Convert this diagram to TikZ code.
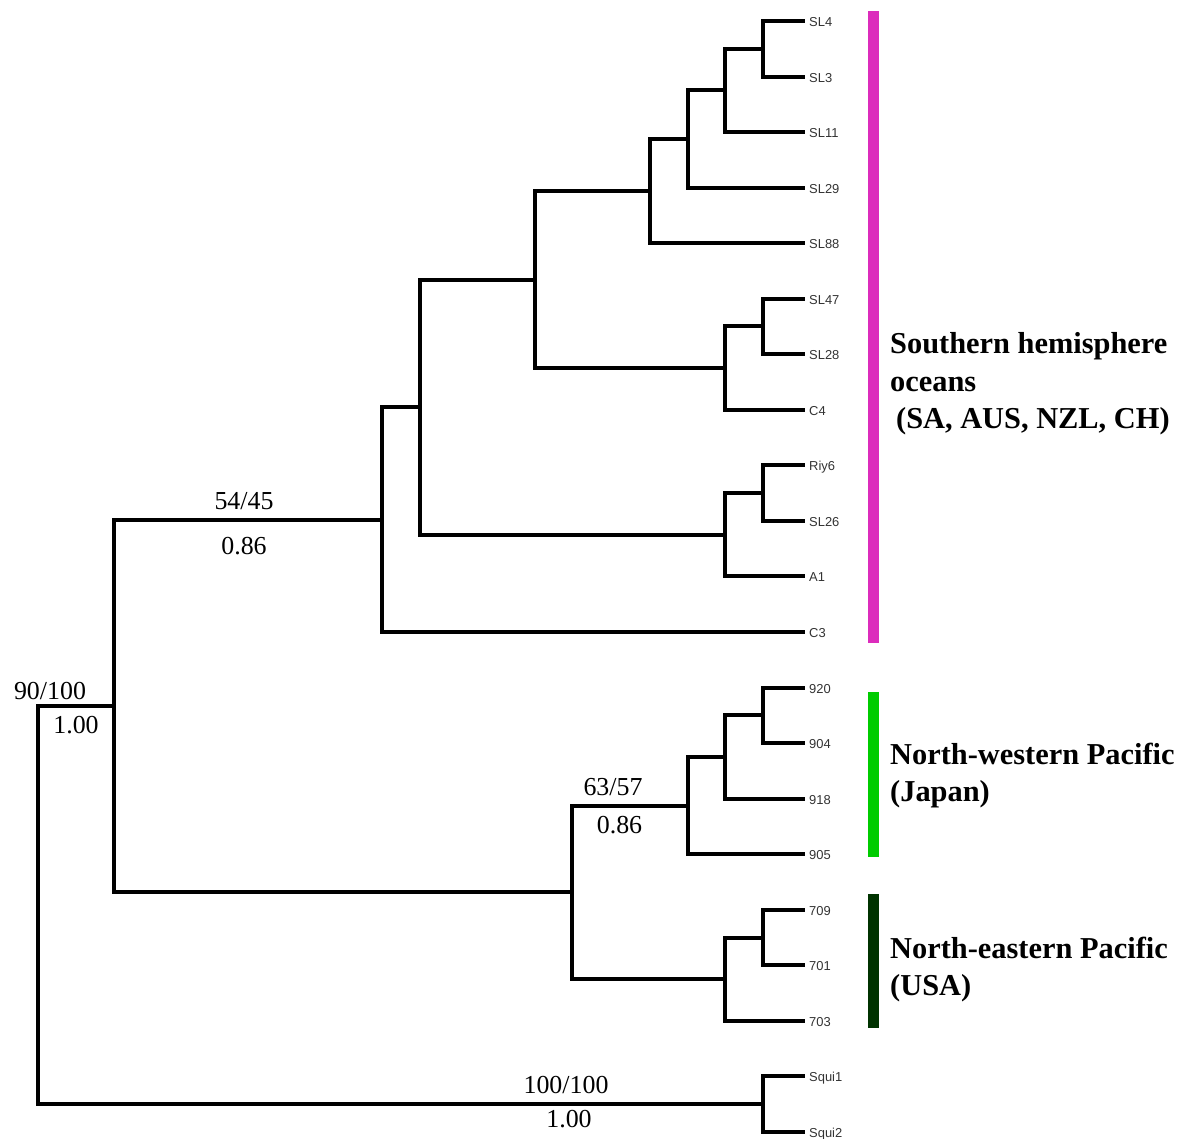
\documentclass[tikz,border=0pt]{standalone}
\usepackage{fontspec}
\setmainfont{Liberation Serif}
\newfontfamily\tipfont{Liberation Sans}
\definecolor{southbar}{HTML}{DC2CBC}
\definecolor{nwbar}{HTML}{00CC00}
\definecolor{nebar}{HTML}{003300}
\definecolor{tiptext}{HTML}{333333}
\begin{document}
\begin{tikzpicture}[x=1bp,y=-1bp,
  branch/.style={line width=4bp, line join=miter, line cap=rect},
  tiplabel/.style={anchor=base west, inner sep=0pt, text=tiptext, font=\tipfont\fontsize{13}{15}\selectfont},
  support/.style={anchor=base, inner sep=0pt, font=\fontsize{26}{30}\selectfont},
  clade/.style={anchor=north west, inner sep=0pt, align=left, font=\bfseries\fontsize{30.5}{37.5}\selectfont}]
\useasboundingbox (0,0) rectangle (1181,1139);
% tips
\foreach \txt/\yy [count=\i] in {SL4/21,SL3/77,SL11/132,SL29/188,SL88/243,SL47/299,SL28/354,C4/410,Riy6/465,SL26/521,A1/576,C3/632,920/688,904/743,918/799,905/854,709/910,701/965,703/1021,Squi1/1076,Squi2/1132}{
  \coordinate (t\i) at (803,\yy);
  \path (t\i) ++(6,5) node[tiplabel] (lab\i) {\txt};
}
% internal nodes
\coordinate (a1) at (763,49);
\coordinate (a2) at (725,90);
\coordinate (a3) at (688,139);
\coordinate (a4) at (650,191);
\coordinate (b1) at (763,326);
\coordinate (b2) at (725,368);
\coordinate (a5) at (535,280);
\coordinate (c1) at (763,493);
\coordinate (c2) at (725,535);
\coordinate (a6) at (420,407);
\coordinate (a7) at (382,520);
\coordinate (j1) at (763,715);
\coordinate (j2) at (725,757);
\coordinate (j3) at (688,806);
\coordinate (u1) at (763,938);
\coordinate (u2) at (725,979);
\coordinate (k) at (572,892);
\coordinate (m) at (114,706);
\coordinate (s) at (763,1104);
\coordinate (root) at (38,905);
% branches
\draw[branch] (t1) -| (a1) |- (t2);
\draw[branch] (a1) -| (a2) |- (t3);
\draw[branch] (a2) -| (a3) |- (t4);
\draw[branch] (a3) -| (a4) |- (t5);
\draw[branch] (t6) -| (b1) |- (t7);
\draw[branch] (b1) -| (b2) |- (t8);
\draw[branch] (a4) -| (a5) |- (b2);
\draw[branch] (t9) -| (c1) |- (t10);
\draw[branch] (c1) -| (c2) |- (t11);
\draw[branch] (a5) -| (a6) |- (c2);
\draw[branch] (a6) -| (a7) |- (t12);
\draw[branch] (t13) -| (j1) |- (t14);
\draw[branch] (j1) -| (j2) |- (t15);
\draw[branch] (j2) -| (j3) |- (t16);
\draw[branch] (t17) -| (u1) |- (t18);
\draw[branch] (u1) -| (u2) |- (t19);
\draw[branch] (j3) -| (k) |- (u2);
\draw[branch] (a7) -| (m) |- (k);
\draw[branch] (t20) -| (s) |- (t21);
\draw[branch] (m) -| (root) |- (s);
% support values
\node[support] (s1a) at (244,509) {54/45};
\node[support] (s1b) at (244,554) {0.86};
\node[support] (s2a) at (50,699) {90/100};
\node[support] (s2b) at (76,733) {1.00};
\node[support] (s3a) at (613,795) {63/57};
\node[support] (s3b) at (619.5,833) {0.86};
\node[support] (s4a) at (566,1093) {100/100};
\node[support] (s4b) at (569,1127) {1.00};
% clade bars
\fill[southbar] (868,11) rectangle (879,643);
\fill[nwbar] (868,692) rectangle (879,857);
\fill[nebar] (868,894) rectangle (879,1028);
% clade labels
\node[clade] (south) at (890,332.5) {Southern hemisphere\\oceans\\\hspace*{6pt}(SA, AUS, NZL, CH)};
\node[clade] (nw) at (890,742.5) {North-western Pacific\\(Japan)};
\node[clade] (ne) at (890,936.5) {North-eastern Pacific\\(USA)};
\end{tikzpicture}
\end{document}
